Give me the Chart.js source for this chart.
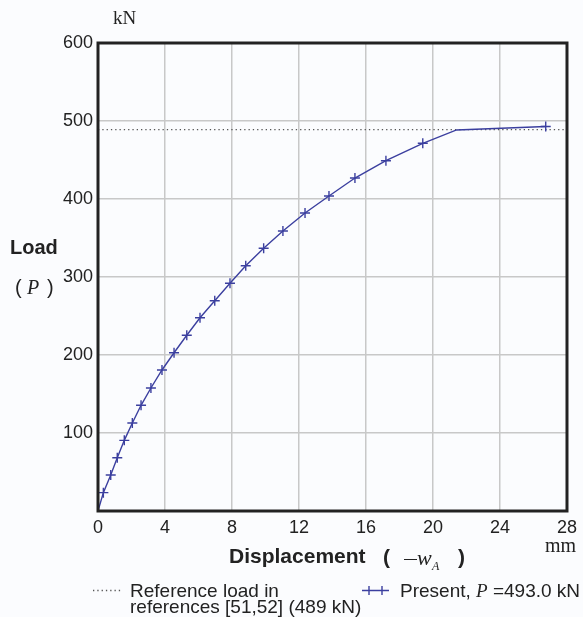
<!DOCTYPE html>
<html>
<head>
<meta charset="utf-8">
<script src="https://cdn.jsdelivr.net/npm/chart.js@4/dist/chart.umd.min.js"></script>
<style>
  html,body{margin:0;padding:0;background:#fbfcfe;}
  #wrap{position:relative;width:583px;height:617px;}
  canvas{display:block;}
</style>
</head>
<body>
<div id="wrap"><canvas id="c" width="583" height="617"></canvas></div>
<script>
// ---- data ----
const dispX = [0, 0.32, 0.76, 1.15, 1.57, 2.05, 2.57, 3.16, 3.82, 4.54, 5.30, 6.09, 6.97, 7.88, 8.82, 9.89, 11.04, 12.36, 13.79, 15.34, 17.19, 19.39, 21.41, 26.73];
const loadP = [0, 23.5, 46.2, 68.3, 90.6, 112.8, 135.5, 157.7, 180.8, 202.9, 225.3, 247.8, 269.6, 291.9, 314.5, 336.8, 359.0, 382.1, 403.8, 426.9, 449.1, 471.4, 488.5, 493.0];
const markerShown = [0, 1, 1, 1, 1, 1, 1, 1, 1, 1, 1, 1, 1, 1, 1, 1, 1, 1, 1, 1, 1, 1, 0, 1];
const refLoad = 489;
const refRange = [0, 28];
const xTicks = [0, 4, 8, 12, 16, 20, 24, 28];
const yTicks = [100, 200, 300, 400, 500, 600];
const legendRef = ["Reference load in", "references [51,52] (489 kN)"];
const legendPresent = ["Present, ", "P", " =493.0 kN"];

const BLUE = '#3b3f9f';
const SANS = '"Liberation Sans", Arial, sans-serif';
const SERIF = '"Liberation Serif", "Times New Roman", serif';

const presentData = dispX.map((x, i) => ({x: x, y: loadP[i]}));
const refData = refRange.map(x => ({x: x, y: refLoad}));

const textPlugin = {
  id: 'extraText',
  afterDraw(chart) {
    const ctx = chart.ctx;
    const a = chart.chartArea;
    ctx.save();
    // frame
    ctx.strokeStyle = '#222';
    ctx.lineWidth = 3;
    ctx.strokeRect(a.left, a.top, a.right - a.left, a.bottom - a.top);

    ctx.fillStyle = '#222';
    ctx.textBaseline = 'alphabetic';
    // units
    ctx.font = '19px ' + SERIF;
    ctx.textAlign = 'left';
    ctx.fillText('kN', 113, 24);
    ctx.font = '20px ' + SERIF;
    ctx.fillText('mm', 545, 552);

    // y title
    ctx.font = 'bold 20px ' + SANS;
    ctx.fillText('Load', 10, 254);
    ctx.font = '20px ' + SANS;
    ctx.fillText('(', 15, 294);
    ctx.fillText(')', 47, 294);
    ctx.font = 'italic 20px ' + SERIF;
    ctx.fillText('P', 27, 294);

    // x title
    ctx.font = 'bold 21px ' + SANS;
    ctx.fillText('Displacement', 229, 563);
    ctx.fillText('(', 383, 564);
    ctx.fillText(')', 458, 564);
    // minus sign drawn as thin line
    ctx.strokeStyle = '#222';
    ctx.lineWidth = 1;
    ctx.beginPath();
    ctx.moveTo(404, 559.5);
    ctx.lineTo(417, 559.5);
    ctx.stroke();
    ctx.font = 'italic 22px ' + SERIF;
    ctx.fillText('w', 417, 565);
    ctx.font = 'italic 12px ' + SERIF;
    ctx.fillText('A', 432, 570);

    // legend: reference
    ctx.strokeStyle = '#555';
    ctx.lineWidth = 1.3;
    ctx.setLineDash([1.3, 3]);
    ctx.beginPath();
    ctx.moveTo(93, 590.5);
    ctx.lineTo(122, 590.5);
    ctx.stroke();
    ctx.setLineDash([]);
    ctx.font = '19px ' + SANS;
    ctx.fillStyle = '#222';
    ctx.fillText(legendRef[0], 130, 597);
    ctx.fillText(legendRef[1], 130, 613);

    // legend: present
    ctx.strokeStyle = BLUE;
    ctx.lineWidth = 1.4;
    ctx.beginPath();
    ctx.moveTo(362, 590.5);
    ctx.lineTo(389, 590.5);
    ctx.moveTo(369, 586); ctx.lineTo(369, 595);
    ctx.moveTo(382, 586); ctx.lineTo(382, 595);
    ctx.stroke();
    let x = 400;
    ctx.font = '19px ' + SANS;
    ctx.fillText(legendPresent[0], x, 597);
    x += ctx.measureText(legendPresent[0]).width;
    ctx.font = 'italic 19px ' + SERIF;
    ctx.fillText(legendPresent[1], x, 597);
    x += ctx.measureText(legendPresent[1]).width;
    ctx.font = '19px ' + SANS;
    ctx.fillText(legendPresent[2], x, 597);
    ctx.restore();
  }
};

new Chart(document.getElementById('c'), {
  type: 'line',
  data: {
    datasets: [
      {
        label: 'Present',
        data: presentData,
        borderColor: BLUE,
        borderWidth: 1.4,
        pointStyle: 'cross',
        pointRadius: markerShown.map(m => m ? 5 : 0),
        pointBorderColor: BLUE,
        pointBorderWidth: 1.4,
        pointHoverRadius: 0,
        tension: 0,
        fill: false
      },
      {
        label: 'Reference',
        data: refData,
        borderColor: '#555',
        borderWidth: 1.3,
        borderDash: [1.3, 3],
        pointRadius: 0,
        tension: 0,
        fill: false
      }
    ]
  },
  options: {
    responsive: false,
    animation: false,
    events: [],
    layout: {padding: {left: 0, top: 43, right: 16, bottom: 0}},
    plugins: {legend: {display: false}, tooltip: {enabled: false}},
    scales: {
      x: {
        type: 'linear',
        min: 0, max: 28,
        afterBuildTicks(s) { s.ticks = xTicks.map(v => ({value: v})); },
        afterFit(s) { s.height = 106; },
        grid: {color: '#c8c8c8', lineWidth: 1.5, drawTicks: false},
        border: {display: false},
        ticks: {color: '#222', font: {family: SANS, size: 18}, padding: 6, maxRotation: 0}
      },
      y: {
        type: 'linear',
        min: 0, max: 600,
        afterBuildTicks(s) { s.ticks = [0].concat(yTicks).map(v => ({value: v})); },
        afterFit(s) { s.width = 98; },
        grid: {color: '#c8c8c8', lineWidth: 1.5, drawTicks: false},
        border: {display: false},
        ticks: {color: '#222', font: {family: SANS, size: 18}, padding: 5,
          callback: v => (yTicks.includes(v) ? String(v) : '')}
      }
    }
  },
  plugins: [textPlugin]
});
</script>
</body>
</html>
